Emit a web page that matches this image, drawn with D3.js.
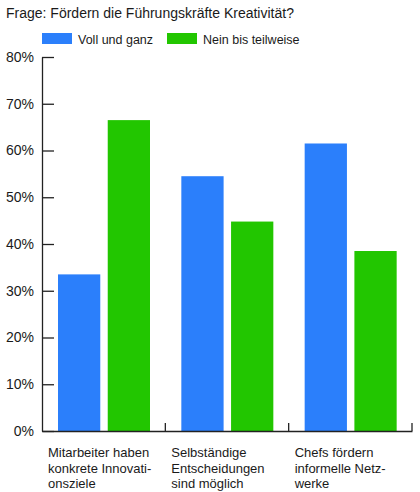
<!DOCTYPE html>
<html><head><meta charset="utf-8">
<script src="https://cdn.jsdelivr.net/npm/d3@7"></script>
<style>
body{margin:0;background:#fff;}
svg text{font-family:"Liberation Sans",Arial,sans-serif;fill:#1a1a1a;}
</style></head>
<body><svg id="c" width="420" height="492"></svg>
<script>
const title = "Frage: Fördern die Führungskräfte Kreativität?";
const categories = ["c1","c2","c3"];
const categoryLabels = [
  ["Mitarbeiter haben","konkrete Innovati-","onsziele"],
  ["Selbständige","Entscheidungen","sind möglich"],
  ["Chefs fördern","informelle Netz-","werke"]
];
const seriesNames = ["Voll und ganz","Nein bis teilweise"];
const seriesColors = ["#2b7ffb","#22c600"];
const vollUndGanz = [33.5, 54.5, 61.5];
const neinBisTeilweise = [66.5, 44.8, 38.5];
const yTicks = [0,10,20,30,40,50,60,70,80];

const FONT = '"Liberation Sans",Arial,sans-serif';
const svg = d3.select("#c");
const x0 = d3.scaleBand().domain(categories).range([42, 412]).paddingInner(0);
const x1 = d3.scaleBand().domain(seriesNames).range([16, 108]).paddingInner(0.15);
const y = d3.scaleLinear().domain([0, 80]).range([431, 57]);
const color = d3.scaleOrdinal().domain(seriesNames).range(seriesColors);

svg.append("text").attr("x", 6).attr("y", 18).attr("font-size", 14).text(title);

// legend
const lg = svg.append("g");
const legendX = [42, 167];
seriesNames.forEach((s, i) => {
  lg.append("rect").attr("x", legendX[i]).attr("y", 33).attr("width", 30).attr("height", 11).attr("fill", color(s));
  lg.append("text").attr("x", legendX[i] + 36).attr("y", 44).attr("font-size", 12.5).text(s);
});

// bars
const rows = categories.map((c, i) => ({c, vals: [vollUndGanz[i], neinBisTeilweise[i]]}));
const g = svg.append("g");
g.selectAll("g.grp").data(rows).join("g").attr("class","grp")
  .attr("transform", d => `translate(${x0(d.c)},0)`)
  .selectAll("rect").data(d => d.vals.map((v, j) => ({s: seriesNames[j], v})))
  .join("rect")
  .attr("x", d => x1(d.s)).attr("width", x1.bandwidth())
  .attr("y", d => y(d.v)).attr("height", d => y(0) - y(d.v))
  .attr("fill", d => color(d.s));

// y axis
const ya = svg.append("g").attr("transform", "translate(42,0)")
  .call(d3.axisLeft(y).tickValues(yTicks).tickFormat(d => d + "%").tickSizeInner(-12).tickSizeOuter(0).tickPadding(8));
ya.selectAll("text").attr("font-size", 14).attr("fill", "#1a1a1a").attr("font-family", FONT);
ya.selectAll("line").attr("stroke", "#222").attr("stroke-width", 1.3);
ya.select(".domain").attr("stroke", "#222").attr("stroke-width", 1.3);

// x axis
const xa = svg.append("g").attr("transform", `translate(0,${y(0)})`)
  .call(d3.axisBottom(x0).tickValues([]).tickSizeOuter(0));
xa.select(".domain").attr("stroke", "#222").attr("stroke-width", 1.3);
xa.selectAll("line.b").data(categories).join("line").attr("class","b")
  .attr("x1", d => x0(d) + x0.bandwidth()).attr("x2", d => x0(d) + x0.bandwidth())
  .attr("y1", 0).attr("y2", -8).attr("stroke", "#222").attr("stroke-width", 1.3);

// category labels
svg.selectAll("text.cat").data(categories).join("text").attr("class","cat")
  .attr("font-size", 13)
  .each(function(d, i) {
    const t = d3.select(this);
    categoryLabels[i].forEach((line, k) => {
      t.append("tspan").attr("x", x0(d) + 6).attr("y", 457 + k * 15.5).text(line);
    });
  });
</script></body></html>
